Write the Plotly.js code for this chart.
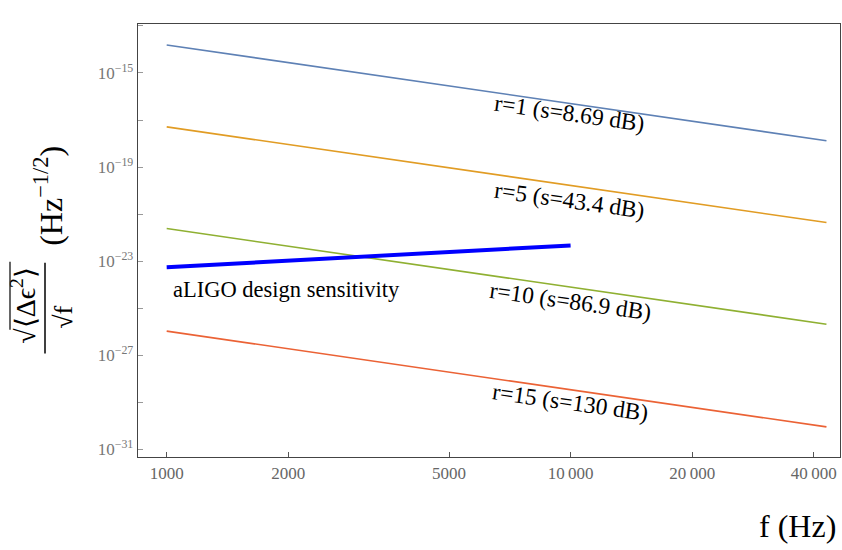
<!DOCTYPE html>
<html>
<head>
<meta charset="utf-8">
<script src="https://cdn.plot.ly/plotly-3.0.1.min.js"></script>
<style>html,body{margin:0;padding:0;background:#fff;}#chart{width:842px;height:550px;}</style>
</head>
<body>
<div id="chart"></div>
<script>
// Frequencies (Hz)
const freqEndpoints = [1000, 43000];
const aligoFreq = [1000, 10000];
// Noise spectral densities
const r1Values = [1.55e-14, 1.32e-18];
const r5Values = [5.1e-18, 4.4e-22];
const r10Values = [2.45e-22, 2.1e-26];
const r15Values = [1.07e-26, 9.1e-31];
const aligoValues = [5.5e-24, 4.7e-23];

const seriesLabels = ["r=1 (s=8.69 dB)", "r=5 (s=43.4 dB)", "r=10 (s=86.9 dB)", "r=15 (s=130 dB)"];
const aligoLabel = "aLIGO design sensitivity";

const xTickVals = [1000, 2000, 5000, 10000, 20000, 40000];
const xTickText = ["1000", "2000", "5000", "10\u2009000", "20\u2009000", "40\u2009000"];
const yTickExps = [-31, -29, -27, -25, -23, -21, -19, -17, -15, -13];
const yLabelExps = [-31, -27, -23, -19, -15];

const colors = ["#5E81B5", "#E19C24", "#8FB032", "#EB6235"];
const serif = "'Liberation Serif', 'Times New Roman', serif";

const seriesValues = [r1Values, r5Values, r10Values, r15Values];
const traces = seriesValues.map((v, i) => ({
  x: freqEndpoints, y: v, type: "scatter", mode: "lines",
  line: {color: colors[i], width: 1.6}, hoverinfo: "skip", showlegend: false
}));
traces.push({
  x: aligoFreq, y: aligoValues, type: "scatter", mode: "lines",
  line: {color: "#0000FF", width: 4}, hoverinfo: "skip", showlegend: false
});

const yTickVals = yTickExps.map(e => Math.pow(10, e));
const yTickText = yTickExps.map(e => yLabelExps.includes(e) ? "10<sup>\u2212" + Math.abs(e) + "</sup>" : " ");

// plot area in px for paper conversions
const L = 138, R = 840, T = 24, B = 457.5;
const px = x => (x - L) / (R - L);
const py = y => (B - y) / (B - T);

const labelPos = [[569, 113], [569, 200], [570, 301], [570, 402]];
const annotations = seriesLabels.map((t, i) => ({
  text: t, xref: "paper", yref: "paper", x: px(labelPos[i][0]), y: py(labelPos[i][1]),
  showarrow: false, textangle: 8, font: {family: serif, size: 23.5, color: "#000"},
  xanchor: "center", yanchor: "middle"
}));
annotations.push({
  text: aligoLabel, xref: "paper", yref: "paper", x: px(286), y: py(290),
  showarrow: false, font: {family: serif, size: 22.5, color: "#000"}, xanchor: "center", yanchor: "middle"
});
annotations.push({
  text: "f (Hz)", xref: "paper", yref: "paper", x: px(797), y: py(527),
  showarrow: false, font: {family: serif, size: 32, color: "#000"}, xanchor: "center", yanchor: "middle"
});
// y-axis title pieces (rotated)
annotations.push({
  text: "\u221A\u27E8\u0394\u03F5<sup>2</sup>\u27E9", xref: "paper", yref: "paper", x: px(24), y: py(306),
  showarrow: false, textangle: -90, font: {family: serif, size: 28, color: "#000"}, xanchor: "center", yanchor: "middle"
});
annotations.push({
  text: "\u221Af", xref: "paper", yref: "paper", x: px(64), y: py(318),
  showarrow: false, textangle: -90, font: {family: serif, size: 26, color: "#000"}, xanchor: "center", yanchor: "middle"
});
annotations.push({
  text: "(Hz<sup>\u22121/2</sup>)", xref: "paper", yref: "paper", x: px(48), y: py(196),
  showarrow: false, textangle: -90, font: {family: serif, size: 32, color: "#000"}, xanchor: "center", yanchor: "middle"
});

const shapes = [
  {type: "line", xref: "paper", yref: "paper", x0: px(45), x1: px(45), y0: py(263), y1: py(354),
   line: {color: "#000", width: 1.5}},
  {type: "line", xref: "paper", yref: "paper", x0: px(10), x1: px(10), y0: py(262), y1: py(330),
   line: {color: "#000", width: 1.2}}
];

const layout = {
  width: 842, height: 550,
  margin: {l: L, r: 842 - R, t: T, b: 550 - B},
  paper_bgcolor: "#fff", plot_bgcolor: "#fff",
  showlegend: false,
  font: {family: serif},
  xaxis: {
    type: "log", range: [2.929, 4.667], tickvals: xTickVals, ticktext: xTickText,
    ticks: "inside", ticklen: 5, tickcolor: "#555", tickwidth: 1,
    showline: true, mirror: true, linecolor: "#444", linewidth: 1.3,
    showgrid: false, zeroline: false,
    tickfont: {family: serif, size: 17, color: "#666"}
  },
  yaxis: {
    type: "log", range: [-31.32, -12.92], tickvals: yTickVals, ticktext: yTickText,
    ticks: "inside", ticklen: 5, tickcolor: "#999", tickwidth: 1,
    showline: true, mirror: true, linecolor: "#444", linewidth: 1.3,
    showgrid: false, zeroline: false,
    tickfont: {family: serif, size: 17, color: "#777"}
  },
  annotations: annotations,
  shapes: shapes
};

Plotly.newPlot("chart", traces, layout, {staticPlot: true, displayModeBar: false});
</script>
</body>
</html>
